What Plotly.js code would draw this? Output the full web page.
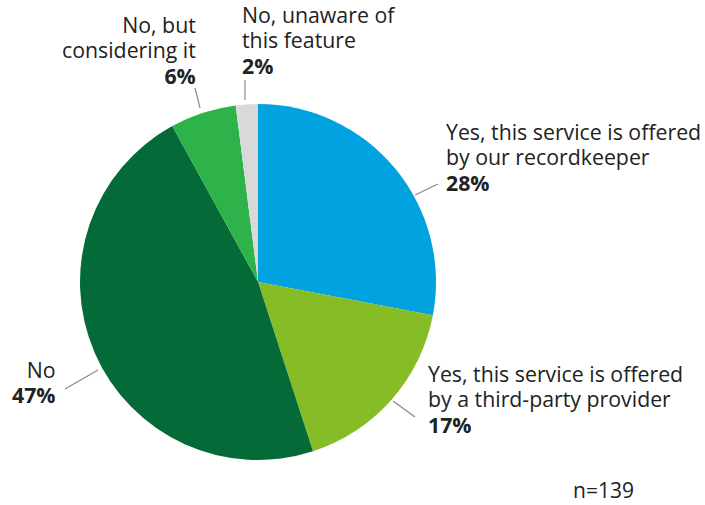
<!DOCTYPE html>
<html>
<head>
<meta charset="utf-8">
<script src="https://cdn.plot.ly/plotly-3.0.1.min.js"></script>
<style>html,body{margin:0;padding:0;background:#fff;}#chart{width:705px;height:505px;}</style>
</head>
<body>
<div id="chart"></div>
<script>
const categories = [
  "Yes, this service is offered<br>by our recordkeeper",
  "Yes, this service is offered<br>by a third-party provider",
  "No",
  "No, but<br>considering it",
  "No, unaware of<br>this feature"
];
const values = [28, 17, 47, 6, 2];
const colors = ["#00A3E0", "#86BC25", "#046A38", "#2DB34A", "#D9D9D9"];
const sampleNote = "n=139";

const W = 705, H = 505;
const px = x => x / W;
const py = y => 1 - y / H;

// label layout: x anchor, y of block centre (pixels), leader line
const labelPos = [
  {x: 444, y: 157,  anchor: "left",  line: [415, 195, 438, 184]},
  {x: 426, y: 399,  anchor: "left",  line: [393, 401, 415, 417]},
  {x: 58,  y: 382,  anchor: "right", line: [98, 370, 65, 389]},
  {x: 198, y: 50,   anchor: "right", line: [200, 108, 195, 88]},
  {x: 240, y: 40.5, anchor: "left",  line: [245, 100, 245, 80]}
];

const cx = 258, cy = 282, r = 178;

const trace = {
  type: "pie",
  values: values,
  labels: categories,
  sort: false,
  direction: "clockwise",
  rotation: 0,
  marker: {colors: colors, line: {width: 0}},
  textinfo: "none",
  hoverinfo: "label+percent",
  showlegend: false,
  domain: {x: [px(cx - r), px(cx + r)], y: [py(cy + r), py(cy - r)]}
};

// glyph size larger than the base size, so the line spacing stays tight
const big = t => '<span style="font-size:21.3px">' + t + '</span>';
const annotations = categories.map((c, i) => {
  const p = labelPos[i];
  const lines = c.split("<br>").map(big).concat(["<b>" + big(values[i] + "%") + "</b>"]);
  return {
    xref: "paper", yref: "paper",
    x: px(p.x), y: py(p.y),
    xanchor: p.anchor, yanchor: "middle", align: p.anchor,
    showarrow: false, text: lines.join("<br>"),
    font: {family: "Open Sans, sans-serif", size: 19.5, color: "#222222"}
  };
});
annotations.push({
  xref: "paper", yref: "paper", x: px(572), y: 0,
  xanchor: "left", yanchor: "bottom", showarrow: false, borderpad: 0,
  text: sampleNote,
  font: {family: "Open Sans, sans-serif", size: 21, color: "#222222"}
});

const shapes = labelPos.map(p => ({
  type: "line", xref: "paper", yref: "paper",
  x0: px(p.line[0]), y0: py(p.line[1]), x1: px(p.line[2]), y1: py(p.line[3]),
  line: {color: "#8a8a8a", width: 1.2}
}));

const layout = {
  width: W, height: H,
  margin: {l: 0, r: 0, t: 0, b: 0},
  paper_bgcolor: "#ffffff",
  plot_bgcolor: "#ffffff",
  annotations: annotations,
  shapes: shapes,
  font: {family: "Open Sans, sans-serif"}
};

Plotly.newPlot("chart", [trace], layout, {displayModeBar: false, staticPlot: true});
</script>
</body>
</html>
